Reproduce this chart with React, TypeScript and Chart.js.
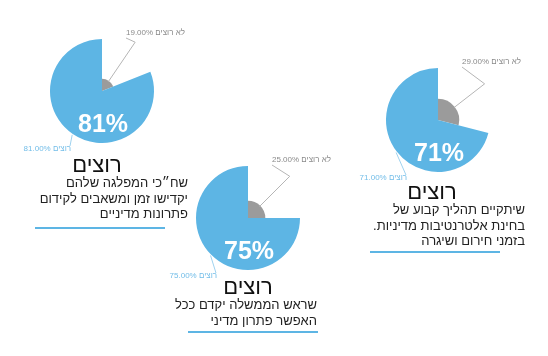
import React, { useEffect, useRef } from "react";
import { Chart, registerables } from "chart.js";

Chart.register(...registerables);

// ---- data ----
const categories = ["לא רוצים", "רוצים"];
const notWant = [19, 25, 29];
const want = [81, 75, 71];
const titles = ["רוצים", "רוצים", "רוצים"];
const descriptions = [
  ["שח״כי המפלגה שלהם", "יקדישו זמן ומשאבים לקידום", "פתרונות מדיניים"],
  ["שראש הממשלה יקדם ככל", "האפשר פתרון מדיני"],
  ["שיתקיים תהליך קבוע של", "בחינת אלטרנטיבות מדיניות.", "בזמני חירום ושיגרה"],
];

// ---- layout / style ----
const W = 548;
const H = 356;
const R = 52;
const centers = [
  [102, 91],
  [248, 218],
  [438, 120],
];
const titlePos = [
  [97, 165],
  [248, 287],
  [432, 192],
];
const descPos = [
  [188, 183],
  [317, 305],
  [525, 210],
];
const underline = [
  [35, 165, 228],
  [188, 318, 332],
  [370, 500, 252],
];
const BLUE = "#5db5e4";
const GRAY = "#9b9b9b";
const FONT = "'Liberation Sans', Arimo, Arial, sans-serif";

const labelPlugin = {
  id: "pieLabels",
  afterDatasetsDraw(chart: any) {
    const ctx = chart.ctx;
    const scale = chart.scales.r;
    const cx = scale.xCenter;
    const cy = scale.yCenter;
    const meta = chart.getDatasetMeta(0);
    const values = chart.data.datasets[0].data as number[];
    const labels = chart.data.labels as string[];
    const g = meta.data[0].getProps(["startAngle", "endAngle", "outerRadius"], true);
    const b = meta.data[1].getProps(["startAngle", "endAngle", "outerRadius"], true);
    ctx.save();
    // gray label
    const gm = (g.startAngle + g.endAngle) / 2;
    ctx.strokeStyle = "#b5b5b5";
    ctx.lineWidth = 1;
    ctx.beginPath();
    ctx.moveTo(cx + Math.cos(gm) * (g.outerRadius - 1), cy + Math.sin(gm) * (g.outerRadius - 1));
    ctx.lineTo(cx + Math.cos(gm) * 59, cy + Math.sin(gm) * 59);
    ctx.lineTo(cx + 24, cy - 53);
    ctx.stroke();
    ctx.direction = "rtl";
    ctx.font = `8px ${FONT}`;
    ctx.textBaseline = "middle";
    ctx.textAlign = "left";
    ctx.fillStyle = "#8a8a8a";
    ctx.fillText(`${labels[0]} ${values[0].toFixed(2)}%`, cx + 24, cy - 58);
    // blue label
    const bm = (b.startAngle + b.endAngle) / 2;
    ctx.strokeStyle = "#9fd2ef";
    ctx.beginPath();
    ctx.moveTo(cx + Math.cos(bm) * (b.outerRadius + 1), cy + Math.sin(bm) * (b.outerRadius + 1));
    ctx.lineTo(cx - 32, cy + 55);
    ctx.stroke();
    ctx.textAlign = "right";
    ctx.fillStyle = "#72bde8";
    ctx.fillText(`${labels[1]} ${values[1].toFixed(2)}%`, cx - 31, cy + 58);
    // big number
    ctx.direction = "ltr";
    ctx.textAlign = "center";
    ctx.font = `bold 25px ${FONT}`;
    ctx.fillStyle = "#ffffff";
    ctx.fillText(`${values[1]}%`, cx + 1, cy + 34);
    ctx.restore();
  },
};

function Pie({ index }: { index: number }) {
  const ref = useRef<HTMLCanvasElement>(null);
  useEffect(() => {
    const [cx, cy] = centers[index];
    const vals = [notWant[index], want[index]];
    const total = vals[0] + vals[1];
    const chart = new Chart(ref.current as HTMLCanvasElement, {
      type: "polarArea",
      data: {
        labels: categories,
        datasets: [
          {
            data: vals,
            backgroundColor: [GRAY, BLUE],
            borderWidth: 0,
            angle: (c: any) => (vals[c.dataIndex] / total) * 360,
          } as any,
        ],
      },
      options: {
        responsive: false,
        animation: false,
        devicePixelRatio: 1,
        layout: {
          padding: { left: cx - R, top: cy - R, right: W - cx - R, bottom: H - cy - R },
        },
        plugins: { legend: { display: false }, tooltip: { enabled: false } },
        scales: {
          r: {
            min: 0,
            max: want[index],
            startAngle: 0,
            grid: { display: false },
            angleLines: { display: false },
            ticks: { display: false },
            pointLabels: { display: false },
          },
        },
      } as any,
      plugins: [labelPlugin],
    });
    return () => chart.destroy();
  }, [index]);
  return (
    <canvas
      ref={ref}
      width={W}
      height={H}
      style={{ position: "absolute", left: 0, top: 0, width: W, height: H, pointerEvents: "none" }}
    />
  );
}

export default function App() {
  return (
    <div style={{ position: "absolute", left: 0, top: 0, width: W, height: H, background: "#fff", overflow: "hidden", fontFamily: FONT }}>
      {[0, 1, 2].map((i) => (
        <Pie key={i} index={i} />
      ))}
      {titles.map((t, i) => (
        <div
          key={"t" + i}
          dir="rtl"
          style={{
            position: "absolute",
            left: titlePos[i][0] - 60,
            top: titlePos[i][1] - 13,
            width: 120,
            textAlign: "center",
            fontSize: 22,
            lineHeight: "26px",
            color: "#111",
          }}
        >
          {t}
        </div>
      ))}
      {descriptions.map((lines, i) => (
        <div
          key={"d" + i}
          dir="rtl"
          style={{
            position: "absolute",
            right: W - descPos[i][0],
            top: descPos[i][1] - 8,
            width: 200,
            textAlign: "right",
            fontSize: 13,
            lineHeight: "15.5px",
            color: "#222",
          }}
        >
          {lines.map((l, j) => (
            <div key={j}>{l}</div>
          ))}
        </div>
      ))}
      {underline.map((u, i) => (
        <div
          key={"u" + i}
          style={{
            position: "absolute",
            left: u[0],
            top: u[2] - 1,
            width: u[1] - u[0],
            height: 2,
            background: BLUE,
          }}
        />
      ))}
    </div>
  );
}
